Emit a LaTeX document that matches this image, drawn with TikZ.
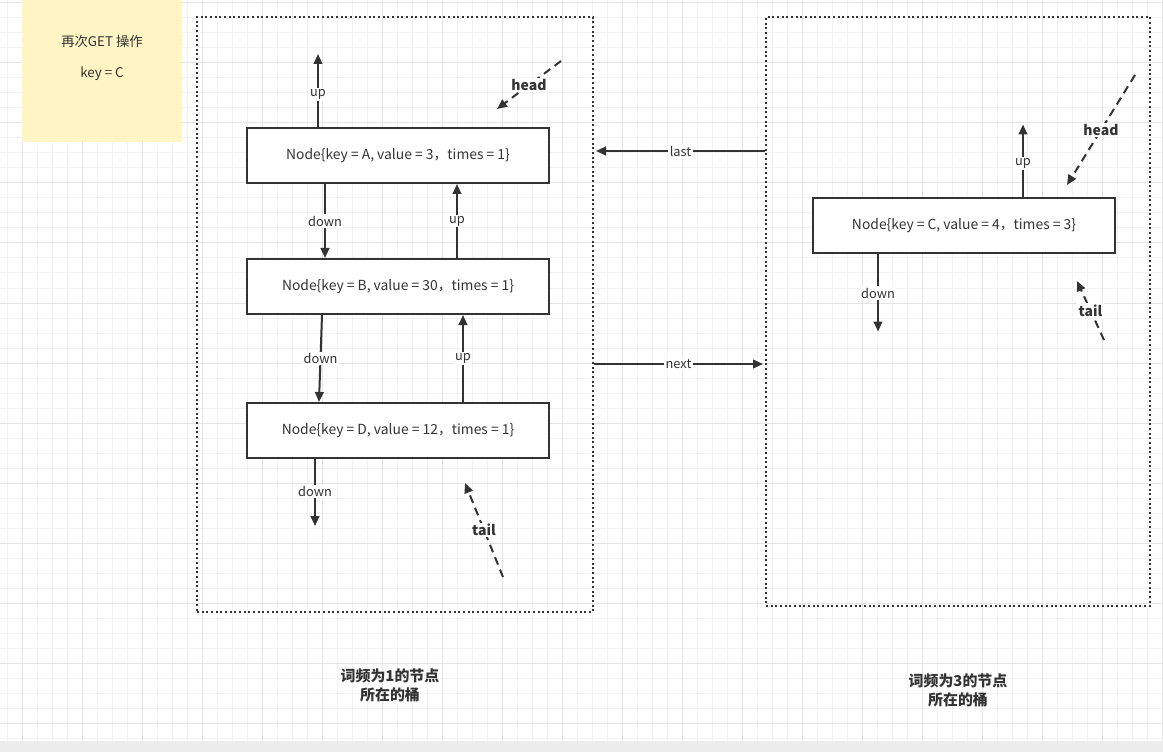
\documentclass[tikz,border=0pt]{standalone}
\usepackage{fontspec}
\setmainfont{Noto Sans CJK SC}
\usepackage{tikz}
\usetikzlibrary{arrows.meta,positioning}
\definecolor{ink}{HTML}{333333}
\definecolor{notefill}{HTML}{FFF4C3}
\definecolor{gridminor}{HTML}{F2F2F2}
\definecolor{gridmajor}{HTML}{E4E4E4}
\tikzset{
    lrunode/.style={rectangle, draw=ink, line width=1.5pt, minimum width=226.5pt, minimum height=41.25pt, inner sep=0pt, fill=white, text=ink, font=\fontsize{10.4pt}{12pt}\selectfont},
    bucket/.style={rectangle, draw=ink, line width=1.5pt, dash pattern=on 1.5pt off 2pt, inner sep=0pt},
    ptr/.style={-{Triangle[length=7.5pt, width=6.5pt]}, line width=1.5pt, draw=ink},
    dptr/.style={ptr, dash pattern=on 6pt off 4pt},
    lbl/.style={fill=white, inner sep=1pt, text=ink, font=\fontsize{9.6pt}{11pt}\selectfont},
    tag/.style={fill=white, inner sep=1pt, text=ink, font=\bfseries\fontsize{10.5pt}{12pt}\selectfont},
    notetext/.style={align=center, text=ink, font=\fontsize{10pt}{23.25pt}\selectfont},
    caption/.style={align=center, text=ink, font=\bfseries\fontsize{11.2pt}{14.25pt}\selectfont},
}

\begin{document}
\begin{tikzpicture}[x=0.75pt, y=-0.75pt]
    \useasboundingbox (0,0) rectangle (1163,752);
    % canvas grid
    \foreach \gx in {7,22,...,1163} \draw[gridminor, line width=0.75pt] (\gx,0) -- (\gx,741);
    \foreach \gy in {3,18,...,741} \draw[gridminor, line width=0.75pt] (0,\gy) -- (1163,\gy);
    \foreach \gx in {22,82,...,1163} \draw[gridmajor, line width=0.75pt] (\gx,0) -- (\gx,741);
    \foreach \gy in {3,63,...,741} \draw[gridmajor, line width=0.75pt] (0,\gy) -- (1163,\gy);
    \fill[gray!15] (0,741) rectangle (1163,752);

    % sticky note
    \fill[notefill] (22,0) rectangle (182,142);
    \node[notetext] (note) at (102,57.5) {再次GET 操作\\key = C};

    % buckets
    \node[bucket, minimum width=297pt, minimum height=446.25pt] (bucketone) at (395,314.5) {};
    \node[bucket, minimum width=288pt, minimum height=441.75pt] (buckettwo) at (958,311.5) {};

    % nodes of bucket 1
    \node[lrunode] (nodeA) at (398,155.5) {Node\{key = A, value = 3，times = 1\}};
    \node[lrunode, below=55.5pt of nodeA] (nodeB) {Node\{key = B, value = 30，times = 1\}};
    \node[lrunode, below=65.25pt of nodeB] (nodeD) {Node\{key = D, value = 12，times = 1\}};

    % node of bucket 3
    \node[lrunode] (nodeC) at (964,226) {Node\{key = C, value = 4，times = 3\}};

    \draw[ptr] ([xshift=54pt]nodeA.north west) -- ++(0,-73) node[lbl, pos=0.45] {up};
    \draw[ptr] ([xshift=59.25pt]nodeA.south west) -- ([xshift=59.25pt]nodeB.north west) node[lbl, midway] {down};
    \draw[ptr] ([xshift=158.25pt]nodeB.north west) -- ([xshift=158.25pt]nodeA.south west) node[lbl, midway] {up};
    \draw[ptr] ([xshift=57pt]nodeB.south west) -- ([xshift=54.75pt]nodeD.north west) node[lbl, midway] {down};
    \draw[ptr] ([xshift=162.75pt]nodeD.north west) -- ([xshift=162.75pt]nodeB.south west) node[lbl, midway] {up};
    \draw[ptr] ([xshift=51.75pt]nodeD.south west) -- ++(0,67) node[lbl, pos=0.48] {down};

    \draw[ptr] ([xshift=158.25pt]nodeC.north west) -- ++(0,-73) node[lbl, pos=0.47] {up};
    \draw[ptr] ([xshift=49.5pt]nodeC.south west) -- ++(0,77) node[lbl, pos=0.5] {down};

    % head / tail pointers
    \coordinate (headone) at (561,61);
    \coordinate (headoneend) at (497,109);
    \coordinate (tailone) at (503,577);
    \coordinate (tailoneend) at (465,483);
    \coordinate (headtwo) at (1135,75);
    \coordinate (headtwoend) at (1067,185);
    \coordinate (tailtwo) at (1104,340);
    \coordinate (tailtwoend) at (1077,281);
    \draw[dptr] (headone) -- (headoneend) node[tag, midway] {head};
    \draw[dptr] (tailone) -- (tailoneend) node[tag, midway] {tail};
    \draw[dptr] (headtwo) -- (headtwoend) node[tag, midway] {head};
    \draw[dptr] (tailtwo) -- (tailtwoend) node[tag, midway] {tail};

    % links between buckets
    \draw[ptr] (buckettwo.west |- 0,151) -- ([xshift=1.5pt]bucketone.east |- 0,151) node[lbl, midway] {last};
    \draw[ptr] (bucketone.east |- 0,364) -- ([xshift=-1.5pt]buckettwo.west |- 0,364) node[lbl, midway] {next};

    \node[caption] (capone) at (390,685) {词频为1的节点\\所在的桶};
    \node[caption] (captwo) at (958,690) {词频为3的节点\\所在的桶};
\end{tikzpicture}
\end{document}
